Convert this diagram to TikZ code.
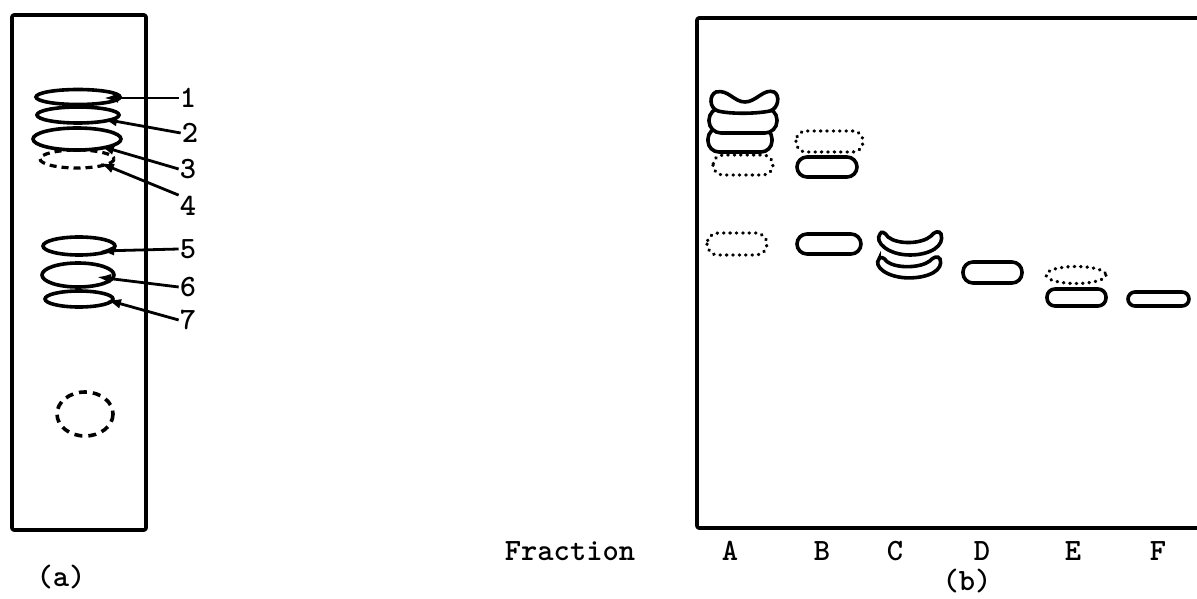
\documentclass[tikz,border=0pt]{standalone}
\usepackage{tikz}
\usetikzlibrary{arrows.meta}

\tikzset{
  plate/.style={line width=3.6pt, line join=round, rounded corners=2pt},
  spot/.style={line width=3.6pt, fill=white},
  streak/.style={line width=3.2pt, dash pattern=on 7pt off 5pt},
  faint/.style={line width=3.4pt, dash pattern=on 0.4pt off 6pt, line cap=round},
  lbl/.style={font=\fontsize{31}{32}\selectfont\ttfamily\bfseries, inner sep=1pt},
  ptr/.style={line width=2.8pt, -{Latex[length=14pt,width=10pt]}},
  crescent/.pic={
    \draw[spot] (-30,-10) .. controls (-36,-2) and (-22,11) .. (0,11)
      .. controls (20,11) and (35,2) .. (31,-10)
      .. controls (29,-14) and (24,-12) .. (21,-8)
      .. controls (12,0) and (-12,1) .. (-22,-7)
      .. controls (-25,-12) and (-29,-13) .. cycle;
  }
}

\begin{document}
\begin{tikzpicture}[x=1pt,y=-1pt]
\useasboundingbox (0,0) rectangle (1197,599);

% plate (a)
\draw[plate] (12,15) rectangle (146,530);
\draw[spot,streak] (77,159) ellipse [x radius=37, y radius=9];
\draw[spot] (77,139) ellipse [x radius=44, y radius=11];
\draw[spot] (78,115) ellipse [x radius=41, y radius=8];
\draw[spot] (78,97) ellipse [x radius=42, y radius=7.5];
\draw[spot] (79,246) ellipse [x radius=36, y radius=9];
\draw[spot] (78,275) ellipse [x radius=36, y radius=12];
\draw[spot] (79,299) ellipse [x radius=34, y radius=8];
\draw[streak, line width=3.6pt, dash pattern=on 8pt off 6pt] (85,414) ellipse [x radius=28, y radius=22];

\coordinate (t1) at (104,98);
\coordinate (t2) at (103,119);
\coordinate (t3) at (100,146);
\coordinate (t4) at (100,163);
\coordinate (t5) at (100,251);
\coordinate (t6) at (97,277);
\coordinate (t7) at (107,300);

\node[lbl] (l1) at (188,98) {1};
\node[lbl] (l2) at (190,133) {2};
\node[lbl] (l3) at (188,169) {3};
\node[lbl] (l4) at (188,206) {4};
\node[lbl] (l5) at (188,249) {5};
\node[lbl] (l6) at (188,287) {6};
\node[lbl] (l7) at (188,320) {7};

\draw[ptr] (l1.west) -- (t1);
\draw[ptr] (l2.west) -- (t2);
\draw[ptr] (l3.west) -- (t3);
\draw[ptr] (l4.north west) -- (t4);
\draw[ptr] (l5.west) -- (t5);
\draw[ptr] (l6.west) -- (t6);
\draw[ptr] (l7.west) -- (t7);

\node[lbl] (capa) at (61,577) {(a)};

% plate (b), open on the right
\draw[plate] (1197,18) -- (697,18) -- (697,528) -- (1197,528);

% lane A
\draw[faint, rounded corners=10pt] (713,155) rectangle (773,175);
\draw[spot, rounded corners=11pt] (708,128) rectangle (772,152);
\draw[spot, rounded corners=12pt] (709,108) rectangle (777,133);
\draw[spot] (716,92) .. controls (728,89) and (734,102) .. (745,102)
  .. controls (756,102) and (764,88) .. (774,92)
  .. controls (780,95) and (779,108) .. (770,111)
  .. controls (755,114) and (730,114) .. (718,111)
  .. controls (709,108) and (709,95) .. (716,92) -- cycle;
\draw[faint, rounded corners=11pt] (707,233) rectangle (767,255);

% lane B
\draw[faint, rounded corners=10pt] (796,131) rectangle (863,152);
\draw[spot, rounded corners=10pt] (797,157) rectangle (857,177);
\draw[spot, rounded corners=10pt] (797,234) rectangle (861,254);

% lane C
\pic at (910,244) {crescent};
\pic[yscale=0.9] at (909,268) {crescent};

% lanes D, E, F
\draw[spot, rounded corners=10pt] (963,262) rectangle (1022,283);
\draw[faint] (1076,275) ellipse [x radius=30, y radius=8.5];
\draw[spot, rounded corners=8pt] (1047,289) rectangle (1106,306);
\draw[spot, rounded corners=7pt] (1128,292) rectangle (1189,306);

\node[lbl] (frac) at (570,551) {Fraction};
\node[lbl] (fA) at (730,551) {A};
\node[lbl] (fB) at (822,551) {B};
\node[lbl] (fC) at (895,551) {C};
\node[lbl] (fD) at (982,551) {D};
\node[lbl] (fE) at (1073,551) {E};
\node[lbl] (fF) at (1158,551) {F};
\node[lbl] (capb) at (967,581) {(b)};
\end{tikzpicture}
\end{document}
